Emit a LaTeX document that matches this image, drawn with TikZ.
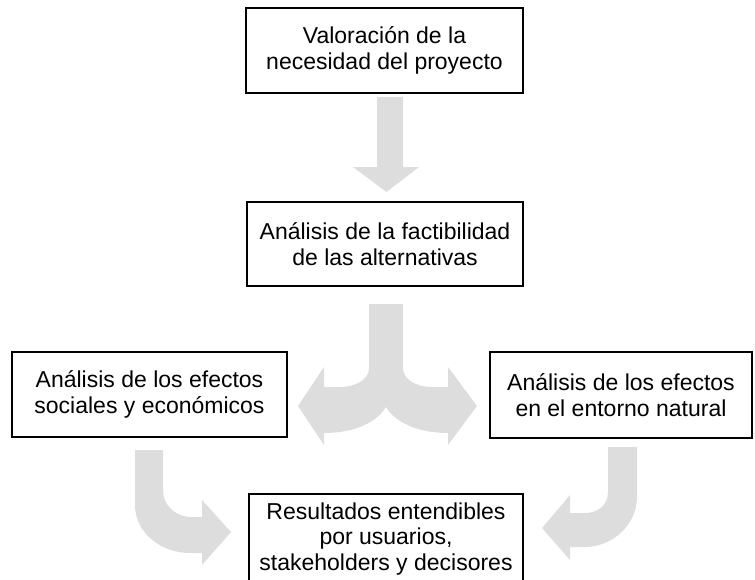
\documentclass[tikz,border=0pt]{standalone}
\usepackage{fontspec}
\setmainfont{Liberation Sans}
\definecolor{ag}{RGB}{221,221,221}
\begin{document}
\begin{tikzpicture}[x=1pt,y=-1pt,
  box/.style={draw=black, line width=1.2pt, fill=white, align=center, inner sep=0pt,
    font=\fontsize{23}{25.5}\selectfont},
  fat/.style={fill=ag, draw=none}]
\useasboundingbox (0,0) rectangle (755,579);
% fat arrows
\fill[fat] (377,97) -- (403,97) -- (403,167) -- (419,167) -- (386.5,192) -- (353,167) -- (377,167) -- cycle;
\fill[fat] (369,304) -- (369,368) .. controls (369,380) and (355,387) .. (340,387) -- (324,387) -- (324,367) -- (298,406) -- (324,445) -- (324,433)
  .. controls (350,433) and (375,425) .. (386,407)
  .. controls (397,425) and (422,433) .. (448,433) -- (448,445) -- (477,406) -- (448,367) -- (448,387) -- (432,387)
  .. controls (417,387) and (403,380) .. (403,368) -- (403,304) -- cycle;
\fill[fat] (135,450) -- (135,505) .. controls (135,532) and (160,553) .. (190,553) -- (202,553) -- (202,565) -- (231,532) -- (202,500) -- (202,517) -- (192,517)
  .. controls (175,517) and (163,505) .. (163,490) -- (163,450) -- cycle;
\fill[fat] (637,447) -- (637,497) .. controls (637,525) and (612,547) .. (585,547) -- (570,547) -- (570,560) -- (542,528) -- (570,495) -- (570,513) -- (585,513)
  .. controls (598,513) and (608,505) .. (608,492) -- (608,447) -- cycle;
% boxes
\node[box, minimum width=277pt, minimum height=85pt] (b1) at (384.5,50.5) {Valoración de la\\necesidad del proyecto};
\node[box, minimum width=276pt, minimum height=84pt] (b2) at (385,244) {Análisis de la factibilidad\\de las alternativas};
\node[box, minimum width=275pt, minimum height=85pt] (b3) at (149.5,394.5) {Análisis de los efectos\\sociales y económicos};
\node[box, minimum width=262pt, minimum height=86pt] (b4) at (621,395) {Análisis de los efectos\\en el entorno natural};
\node[box, minimum width=274pt, minimum height=90pt] (b5) at (386,539) {Resultados entendibles\\por usuarios,\\stakeholders y decisores};
\end{tikzpicture}
\end{document}
